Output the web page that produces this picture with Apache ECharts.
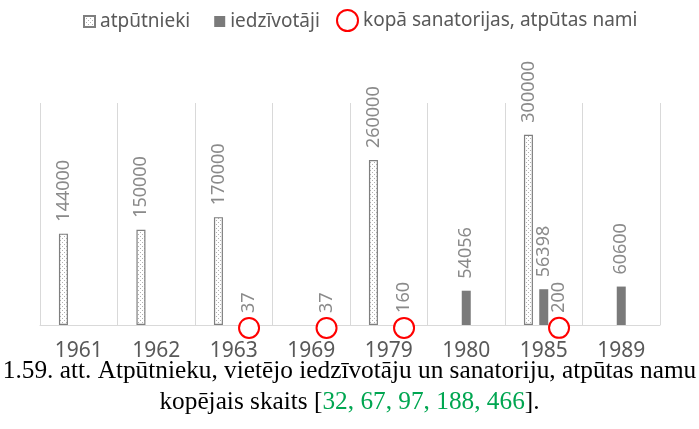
<!DOCTYPE html>
<html>
<head>
<meta charset="utf-8">
<script src="https://cdn.jsdelivr.net/npm/echarts@6/dist/echarts.min.js"></script>
<style>
  html, body { margin: 0; padding: 0; background: #fff; }
  #chart { width: 699px; height: 429px; }
</style>
</head>
<body>
<div id="chart"></div>
<script>
// Years on the category axis
const years = ['1961', '1962', '1963', '1969', '1979', '1980', '1985', '1989'];
// Holidaymakers
const holidaymakers = [144000, 150000, 170000, null, 260000, null, 300000, null];
// Local residents
const residents = [null, null, null, null, null, 54056, 56398, 60600];
// Sanatoria and rest homes in total
const sanatoria = [null, null, 37, 37, 160, null, 200, null];

const seriesNames = ['atpūtnieki', 'iedzīvotāji', 'kopā sanatorijas, atpūtas nami'];

// Sparse dotted fill for the holidaymaker bars
function dotPattern() {
  const c = document.createElement('canvas');
  c.width = 4; c.height = 4;
  const g = c.getContext('2d');
  g.fillStyle = '#ffffff';
  g.fillRect(0, 0, 4, 4);
  g.fillStyle = '#b0b0b0';
  g.fillRect(0, 0, 1, 1);
  g.fillRect(2, 2, 1, 1);
  return c;
}
const dots = { image: dotPattern(), repeat: 'repeat' };

const valueLabel = {
  show: true,
  position: 'top',
  rotate: 90,
  align: 'left',
  verticalAlign: 'middle',
  distance: 12,
  color: '#8a8a8a',
  fontFamily: 'Noto Sans',
  fontSize: 18
};

const legendText = { color: '#595959', fontFamily: 'Noto Sans', fontSize: 19, padding: [0, 0, 0, 0] };

const chart = echarts.init(document.getElementById('chart'));
chart.setOption({
  animation: false,
  legend: [
    {
      top: 7,
      left: 78,
      itemWidth: 11,
      itemHeight: 11,
      itemGap: 24,
      icon: 'rect',
      textStyle: legendText,
      data: [seriesNames[0], seriesNames[1]]
    },
    {
      top: 4,
      left: 331,
      itemWidth: 21,
      itemHeight: 21,
      textStyle: legendText,
      data: [{
        name: seriesNames[2],
        icon: 'circle',
        itemStyle: { color: '#ffffff', borderColor: '#ff0000', borderWidth: 2 }
      }]
    }
  ],
  title: {
    left: 'center',
    top: 351,
    text: '1.59. att. Atpūtnieku, vietējo iedzīvotāju un sanatoriju, atpūtas namu\n{t|kopējais skaits [}{g|32, 67, 97, 188, 466}{t|].}',
    textStyle: {
      color: '#000000',
      fontFamily: 'Liberation Serif',
      fontWeight: 'normal',
      fontSize: 25.3,
      lineHeight: 31,
      rich: {
        t: { color: '#000000', fontFamily: 'Liberation Serif', fontSize: 25.3, lineHeight: 31 },
        g: { color: '#00a651', fontFamily: 'Liberation Serif', fontSize: 25.3, lineHeight: 31 }
      }
    }
  },
  grid: { left: 40, right: 39, top: 103, bottom: 104 },
  xAxis: {
    type: 'category',
    data: years,
    axisLine: { lineStyle: { color: '#d9d9d9', width: 1 } },
    axisTick: { show: false },
    splitLine: { show: true, interval: 0, lineStyle: { color: '#d9d9d9', width: 1 } },
    axisLabel: { color: '#595959', fontFamily: 'Noto Sans', fontSize: 21, margin: 16, interval: 0 }
  },
  yAxis: {
    type: 'value',
    min: 0,
    max: 350000,
    show: false,
    splitLine: { show: false }
  },
  series: [
    {
      name: seriesNames[0],
      type: 'bar',
      data: holidaymakers,
      barWidth: 9,
      barGap: '70%',
      itemStyle: { color: dots, borderColor: '#7f7f7f', borderWidth: 1.2 },
      label: valueLabel
    },
    {
      name: seriesNames[1],
      type: 'bar',
      data: residents,
      barWidth: 9,
      barGap: '70%',
      itemStyle: { color: '#7a7a7a' },
      label: valueLabel
    },
    {
      name: seriesNames[2],
      type: 'bar',
      data: sanatoria,
      barWidth: 9,
      barGap: '70%',
      itemStyle: { color: 'rgba(0,0,0,0)' },
      label: valueLabel,
      markPoint: {
        symbol: 'circle',
        symbolSize: 20,
        symbolOffset: [0, 3],
        itemStyle: { color: '#ffffff', borderColor: '#ff0000', borderWidth: 2 },
        label: { show: false },
        data: sanatoria
          .map((v, i) => (v == null ? null : { coord: [years[i], v] }))
          .filter(Boolean)
      }
    }
  ]
});
</script>
</body>
</html>
